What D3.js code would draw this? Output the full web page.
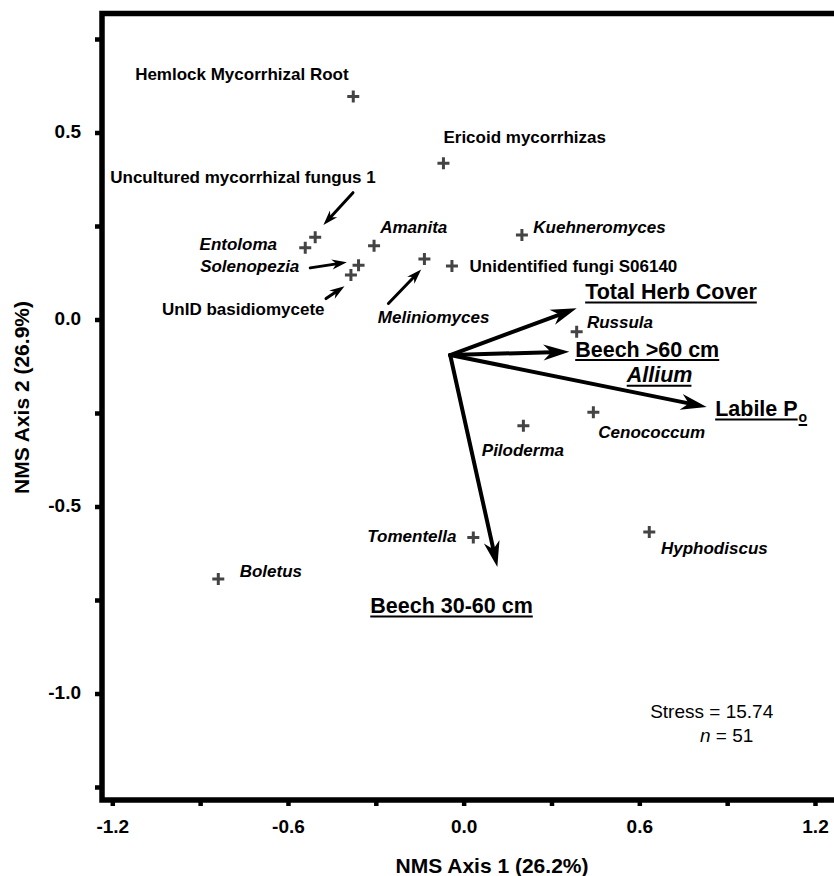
<!DOCTYPE html>
<html>
<head>
<meta charset="utf-8">
<script src="https://cdn.jsdelivr.net/npm/d3@7"></script>
<style>
  body { margin: 0; background: #fff; }
  text { font-family: "Liberation Sans", Arial, Helvetica, sans-serif; }
</style>
</head>
<body>
<svg id="nmsChart"></svg>
<script>
const width = 834, height = 876;

// species scores (NMS axis 1, axis 2)
const species = ['Hemlock Mycorrhizal Root', 'Ericoid mycorrhizas', 'Uncultured mycorrhizal fungus 1',
  'Entoloma', 'Amanita', 'Solenopezia', 'UnID basidiomycete', 'Meliniomyces', 'Unidentified fungi S06140',
  'Kuehneromyces', 'Russula', 'Cenococcum', 'Piloderma', 'Tomentella', 'Hyphodiscus', 'Boletus'];
const spAxis1 = [-0.377, -0.069, -0.507, -0.541, -0.306, -0.359, -0.385, -0.134, -0.040,
  0.199, 0.386, 0.443, 0.204, 0.033, 0.634, -0.838];
const spAxis2 = [0.596, 0.418, 0.220, 0.192, 0.197, 0.145, 0.119, 0.162, 0.143,
  0.226, -0.033, -0.248, -0.284, -0.583, -0.568, -0.694];
const spItalic = [false, false, false, true, true, true, false, true, false,
  true, true, true, true, true, true, true];
// where each species name sits (left end of baseline, in axis units)
const labAxis1 = [-1.122, -0.069, -1.207, -0.902, -0.285, -0.900, -1.030, -0.293, 0.020,
  0.238, 0.421, 0.460, 0.062, -0.329, 0.674, -0.765];
const labAxis2 = [0.640, 0.471, 0.366, 0.186, 0.230, 0.128, 0.011, -0.010, 0.128,
  0.230, -0.024, -0.318, -0.365, -0.594, -0.627, -0.688];

// pointer arrows from a name to its cross
const ptrFrom1 = [-0.378, -0.524, -0.470, -0.257];
const ptrFrom2 = [0.339, 0.138, 0.056, 0.043];
const ptrTo1 = [-0.479, -0.399, -0.407, -0.145];
const ptrTo2 = [0.253, 0.153, 0.089, 0.134];

// environmental vectors (joint plot)
const vecOrigin = [-0.046, -0.095];
const vecAxis1 = [0.386, 0.361, 0.830, 0.115];
const vecAxis2 = [0.030, -0.086, -0.234, -0.662];

const vecLabels = ['Total Herb Cover', 'Beech >60 cm', 'Allium', 'Labile P', 'Beech 30-60 cm'];
const vecLabSub = ['', '', '', 'o', ''];
const vecLabItalic = [false, false, true, false, false];
const vecLab1 = [0.415, 0.381, 0.557, 0.859, -0.319];
const vecLab2 = [0.055, -0.099, -0.168, -0.258, -0.785];

const xTicks = [-1.2, -0.9, -0.6, -0.3, 0, 0.3, 0.6, 0.9, 1.2];
const xTickLabels = ['-1.2', '', '-0.6', '', '0.0', '', '0.6', '', '1.2'];
const yTicks = [0.75, 0.5, 0.25, 0, -0.25, -0.5, -0.75, -1.0, -1.25];
const yTickLabels = ['', '0.5', '', '0.0', '', '-0.5', '', '-1.0', ''];

const frameLeft = 102, frameTop = 13.5, frameBottom = 800;

const svg = d3.select('#nmsChart')
  .attr('width', width)
  .attr('height', height)
  .attr('viewBox', [0, 0, width, height]);

const x = d3.scaleLinear().domain([-1.2, 1.2]).range([112.3, 815]);
const y = d3.scaleLinear().domain([0.75, -1.25]).range([39, 787]);

// axes
const gx = svg.append('g')
  .attr('transform', `translate(0,${frameBottom})`)
  .call(d3.axisBottom(x).tickValues(xTicks).tickSize(6).tickFormat((d, i) => xTickLabels[i]));
gx.select('.domain').remove();
gx.selectAll('.tick line').attr('stroke', '#000').attr('stroke-width', 4.5);
gx.selectAll('.tick text')
  .attr('y', 33).attr('dy', 0).attr('fill', '#000')
  .style('font-size', '19px').style('font-weight', 'bold');

const gy = svg.append('g')
  .attr('transform', `translate(${frameLeft},0)`)
  .call(d3.axisLeft(y).tickValues(yTicks).tickSize(7).tickFormat((d, i) => yTickLabels[i]));
gy.select('.domain').remove();
gy.selectAll('.tick line').attr('stroke', '#000').attr('stroke-width', 4.5);
gy.selectAll('.tick text')
  .attr('x', -21).attr('dy', 4.5).attr('fill', '#000')
  .style('font-size', '19px').style('font-weight', 'bold');

// frame (right side runs off the picture)
svg.append('path')
  .attr('d', `M${width + 10},${frameTop}H${frameLeft}V${frameBottom}H${width + 10}`)
  .attr('fill', 'none')
  .attr('stroke', '#000')
  .attr('stroke-width', 5.5);

// axis titles
svg.append('text')
  .attr('x', 492).attr('y', 873)
  .attr('text-anchor', 'middle')
  .style('font-size', '21px').style('font-weight', 'bold')
  .text('NMS Axis 1 (26.2%)');
svg.append('text')
  .attr('transform', 'translate(29,397.5) rotate(-90)')
  .attr('text-anchor', 'middle')
  .style('font-size', '21px').style('font-weight', 'bold')
  .text('NMS Axis 2 (26.9%)');

function arrow(g, x1, y1, x2, y2, headLen, headW, sw) {
  const a = Math.atan2(y2 - y1, x2 - x1);
  const notch = headLen * 0.7;
  g.append('line')
    .attr('x1', x1).attr('y1', y1)
    .attr('x2', x2 - Math.cos(a) * notch).attr('y2', y2 - Math.sin(a) * notch)
    .attr('stroke', '#000').attr('stroke-width', sw).attr('stroke-linecap', 'round');
  const pts = [[0, 0], [-headLen, -headW], [-notch, 0], [-headLen, headW]]
    .map(([px, py]) => [x2 + px * Math.cos(a) - py * Math.sin(a), y2 + px * Math.sin(a) + py * Math.cos(a)]);
  g.append('path').attr('d', 'M' + pts.join('L') + 'Z').attr('fill', '#000');
}

// vectors
const vg = svg.append('g');
vecAxis1.forEach((v, i) => {
  arrow(vg, x(vecOrigin[0]), y(vecOrigin[1]), x(v), y(vecAxis2[i]), 26, 8, 4);
});

// pointer arrows
const pg = svg.append('g');
ptrFrom1.forEach((v, i) => {
  const len = Math.hypot(x(ptrTo1[i]) - x(v), y(ptrTo2[i]) - y(ptrFrom2[i]));
  arrow(pg, x(v), y(ptrFrom2[i]), x(ptrTo1[i]), y(ptrTo2[i]), Math.min(15, len), 5, 3);
});

// species crosses
svg.append('g').selectAll('path')
  .data(species)
  .join('path')
  .attr('transform', (d, i) => `translate(${x(spAxis1[i])},${y(spAxis2[i])})`)
  .attr('d', 'M-6,0H6M0,-6V6')
  .attr('stroke', '#444')
  .attr('stroke-width', 3)
  .attr('fill', 'none');

// species names
svg.append('g').selectAll('text')
  .data(species)
  .join('text')
  .attr('x', (d, i) => x(labAxis1[i]))
  .attr('y', (d, i) => y(labAxis2[i]))
  .style('font-size', '17px')
  .style('font-weight', 'bold')
  .style('font-style', (d, i) => spItalic[i] ? 'italic' : 'normal')
  .attr('fill', '#000')
  .text(d => d);

// vector names, underlined
const lg = svg.append('g');
vecLabels.forEach((name, i) => {
  const tx = x(vecLab1[i]), ty = y(vecLab2[i]);
  const t = lg.append('text')
    .attr('x', tx).attr('y', ty)
    .style('font-size', '21.5px')
    .style('font-weight', 'bold')
    .style('font-style', vecLabItalic[i] ? 'italic' : 'normal')
    .text(name);
  const w = t.node().getComputedTextLength();
  lg.append('line')
    .attr('x1', tx).attr('x2', tx + w + (vecLabItalic[i] ? -1 : 0))
    .attr('y1', ty + 3.5).attr('y2', ty + 3.5)
    .attr('stroke', '#000').attr('stroke-width', 2);
  if (vecLabSub[i]) {
    const s = lg.append('text')
      .attr('x', tx + w + 1).attr('y', ty + 6)
      .style('font-size', '14px').style('font-weight', 'bold')
      .text(vecLabSub[i]);
    const sw = s.node().getComputedTextLength();
    lg.append('line')
      .attr('x1', tx + w + 1).attr('x2', tx + w + 1 + sw)
      .attr('y1', ty + 9).attr('y2', ty + 9)
      .attr('stroke', '#000').attr('stroke-width', 2);
  }
});

// fit statistics
svg.append('text')
  .attr('x', x(0.637)).attr('y', y(-1.066))
  .style('font-size', '19px')
  .text('Stress = 15.74');
const nt = svg.append('text')
  .attr('x', x(0.807)).attr('y', y(-1.130))
  .style('font-size', '19px');
nt.append('tspan').style('font-style', 'italic').text('n');
nt.append('tspan').text(' = 51');
</script>
</body>
</html>
